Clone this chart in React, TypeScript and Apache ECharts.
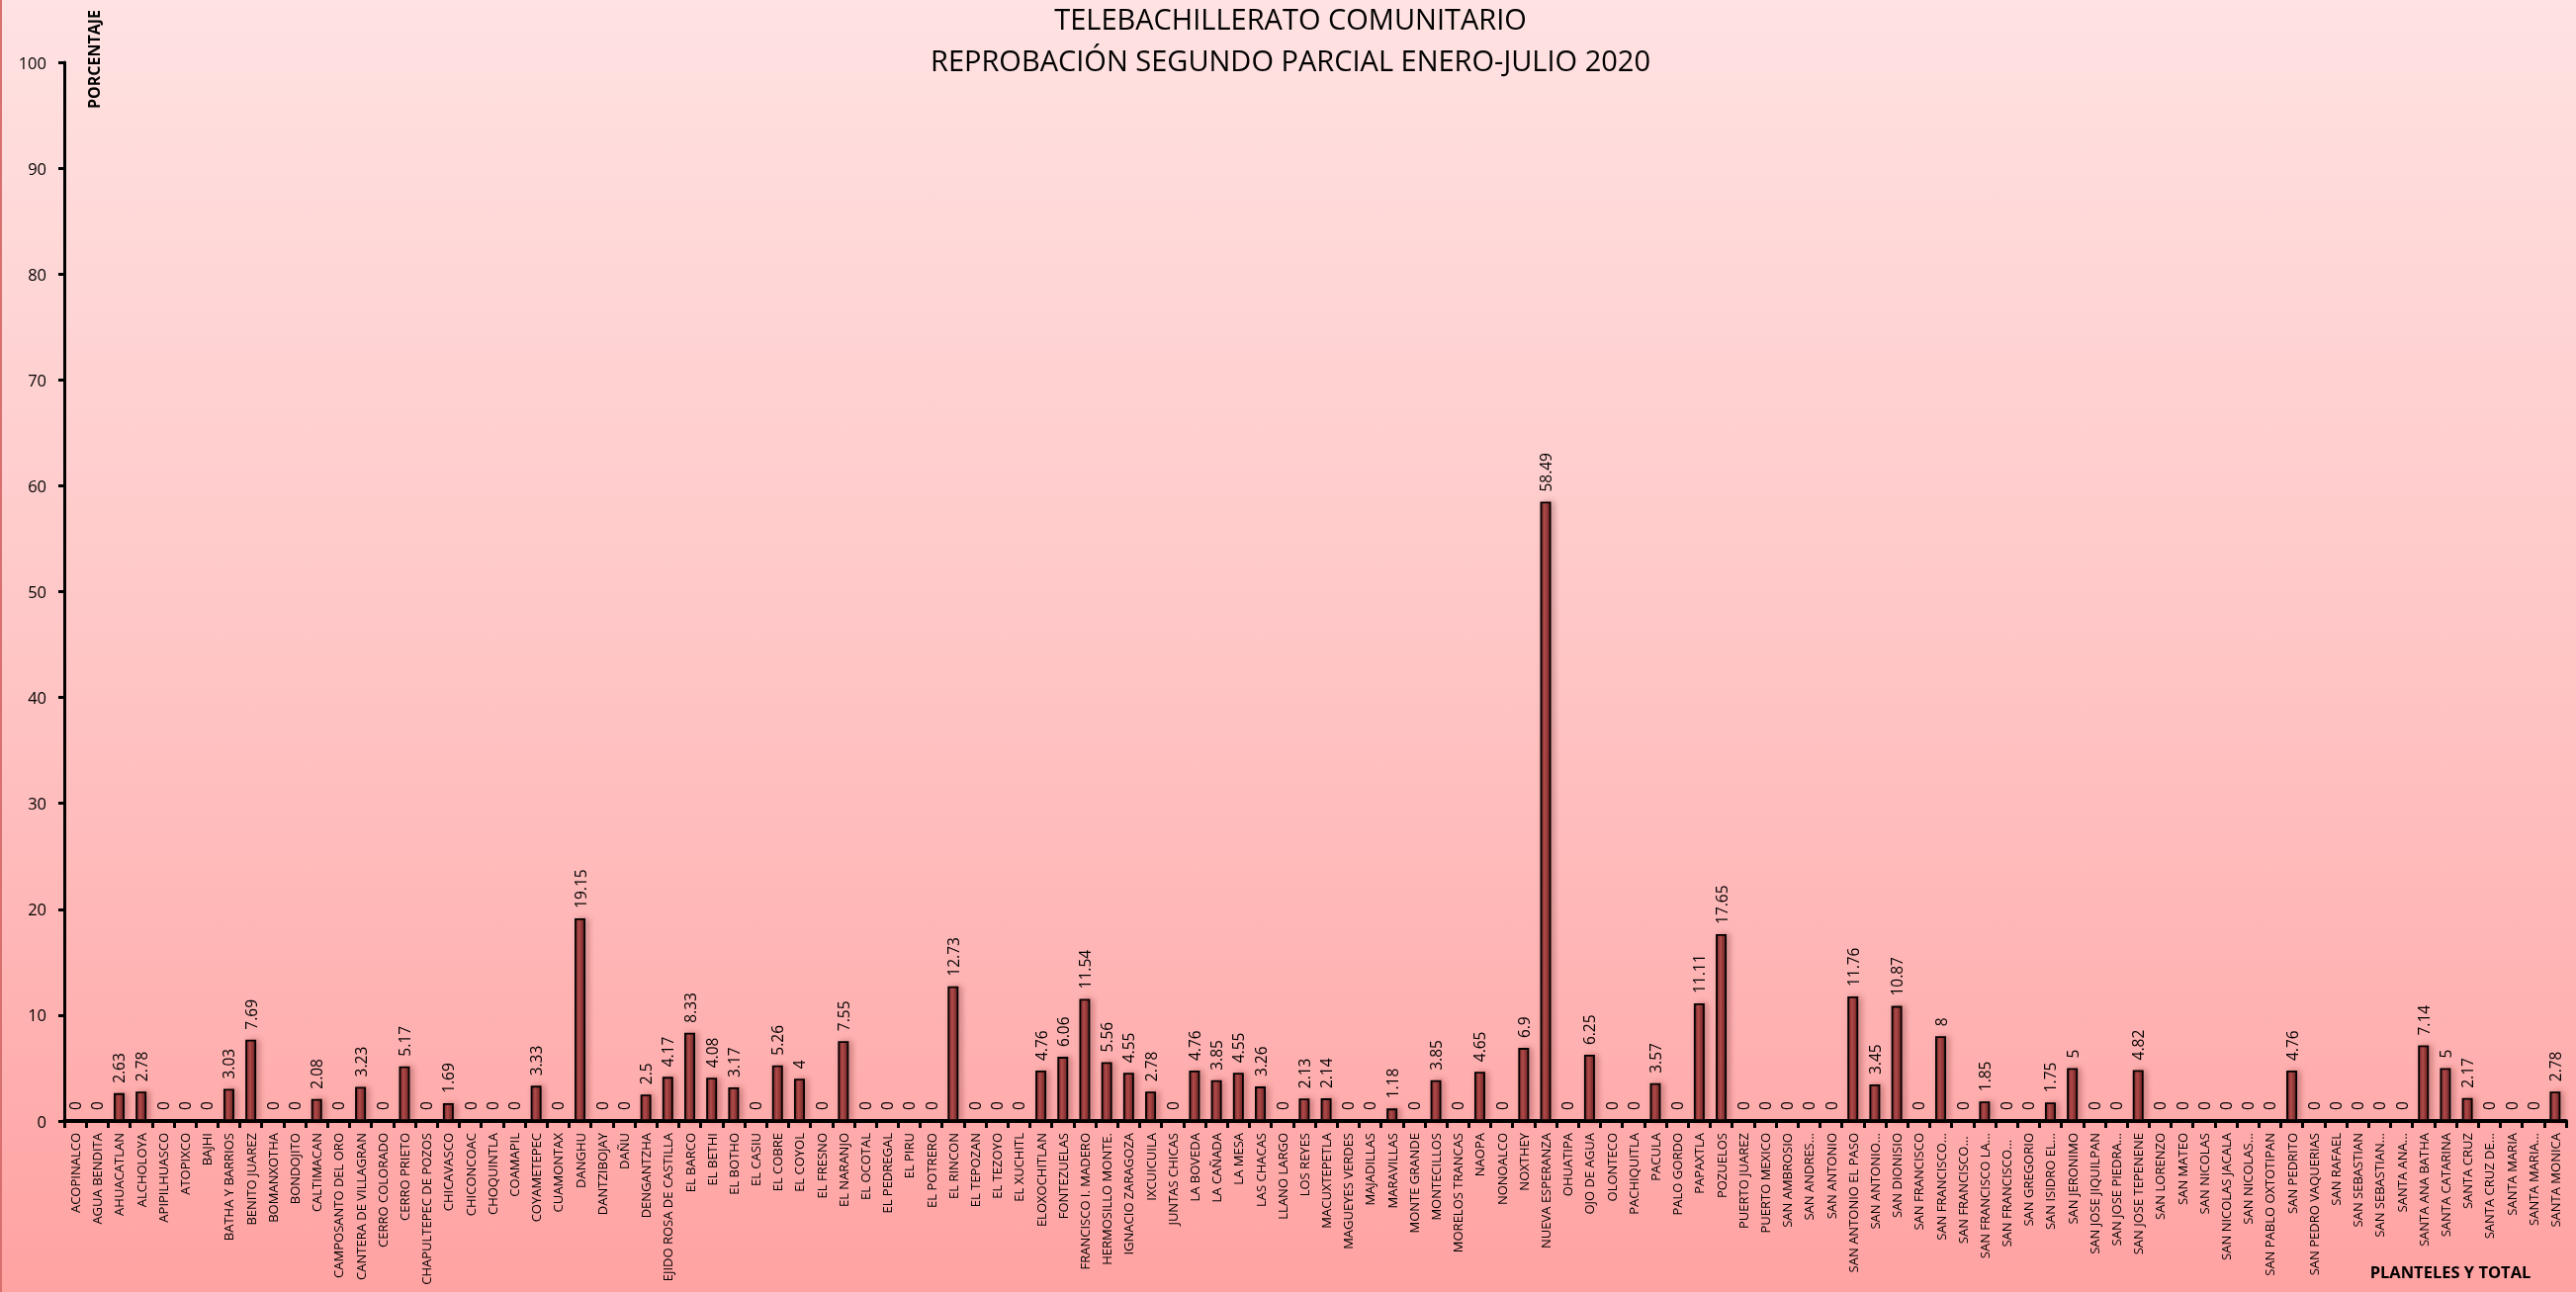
import React, { useEffect, useRef } from "react";
import * as echarts from "echarts";

const categories: string[] = [
  "ACOPINALCO", "AGUA BENDITA", "AHUACATLAN", "ALCHOLOYA", "APIPILHUASCO", "ATOPIXCO", "BAJHI",
  "BATHA Y BARRIOS", "BENITO JUAREZ", "BOMANXOTHA", "BONDOJITO", "CALTIMACAN", "CAMPOSANTO DEL ORO",
  "CANTERA DE VILLAGRAN", "CERRO COLORADO", "CERRO PRIETO", "CHAPULTEPEC DE POZOS", "CHICAVASCO",
  "CHICONCOAC", "CHOQUINTLA", "COAMAPIL", "COYAMETEPEC", "CUAMONTAX", "DANGHU", "DANTZIBOJAY", "DAÑU",
  "DENGANTZHA", "EJIDO ROSA DE CASTILLA", "EL BARCO", "EL BETHI", "EL BOTHO", "EL CASIU", "EL COBRE",
  "EL COYOL", "EL FRESNO", "EL NARANJO", "EL OCOTAL", "EL PEDREGAL", "EL PIRU", "EL POTRERO", "EL RINCON",
  "EL TEPOZAN", "EL TEZOYO", "EL XUCHITL", "ELOXOCHITLAN", "FONTEZUELAS", "FRANCISCO I. MADERO",
  "HERMOSILLO MONTE.", "IGNACIO ZARAGOZA", "IXCUICUILA", "JUNTAS CHICAS", "LA BOVEDA", "LA CAÑADA",
  "LA MESA", "LAS CHACAS", "LLANO LARGO", "LOS REYES", "MACUXTEPETLA", "MAGUEYES VERDES", "MAJADILLAS",
  "MARAVILLAS", "MONTE GRANDE", "MONTECILLOS", "MORELOS TRANCAS", "NAOPA", "NONOALCO", "NOXTHEY",
  "NUEVA ESPERANZA", "OHUATIPA", "OJO DE AGUA", "OLONTECO", "PACHIQUITLA", "PACULA", "PALO GORDO",
  "PAPAXTLA", "POZUELOS", "PUERTO JUAREZ", "PUERTO MEXICO", "SAN AMBROSIO", "SAN ANDRES...",
  "SAN ANTONIO", "SAN ANTONIO EL PASO", "SAN ANTONIO...", "SAN DIONISIO", "SAN FRANCISCO",
  "SAN FRANCISCO...", "SAN FRANCISCO... ", "SAN FRANCISCO LA...", "SAN FRANCISCO...  ", "SAN GREGORIO",
  "SAN ISIDRO EL...", "SAN JERONIMO", "SAN JOSE JIQUILPAN", "SAN JOSE PIEDRA...", "SAN JOSE TEPENENE",
  "SAN LORENZO", "SAN MATEO", "SAN NICOLAS", "SAN NICOLAS JACALA", "SAN NICOLAS...", "SAN PABLO OXTOTIPAN",
  "SAN PEDRITO", "SAN PEDRO VAQUERIAS", "SAN RAFAEL", "SAN SEBASTIAN", "SAN SEBASTIAN...", "SANTA ANA...",
  "SANTA ANA BATHA", "SANTA CATARINA", "SANTA CRUZ", "SANTA CRUZ DE...", "SANTA MARIA", "SANTA MARIA...",
  "SANTA MONICA",
];

const values: number[] = [
  0, 0, 2.63, 2.78, 0, 0, 0,
  3.03, 7.69, 0, 0, 2.08, 0,
  3.23, 0, 5.17, 0, 1.69,
  0, 0, 0, 3.33, 0, 19.15, 0, 0,
  2.5, 4.17, 8.33, 4.08, 3.17, 0, 5.26,
  4, 0, 7.55, 0, 0, 0, 0, 12.73,
  0, 0, 0, 4.76, 6.06, 11.54,
  5.56, 4.55, 2.78, 0, 4.76, 3.85,
  4.55, 3.26, 0, 2.13, 2.14, 0, 0,
  1.18, 0, 3.85, 0, 4.65, 0, 6.9,
  58.49, 0, 6.25, 0, 0, 3.57, 0,
  11.11, 17.65, 0, 0, 0, 0,
  0, 11.76, 3.45, 10.87, 0,
  8, 0, 1.85, 0, 0,
  1.75, 5, 0, 0, 4.82,
  0, 0, 0, 0, 0, 0,
  4.76, 0, 0, 0, 0, 0,
  7.14, 5, 2.17, 0, 0, 0,
  2.78,
];

const titleLines: string[] = [
  "TELEBACHILLERATO COMUNITARIO",
  "REPROBACIÓN SEGUNDO PARCIAL ENERO-JULIO 2020",
];
const yAxisTitle = "PORCENTAJE";
const xAxisTitle = "PLANTELES Y TOTAL";

const FONT = "'Open Sans', 'Noto Sans', sans-serif";

export default function App() {
  const ref = useRef<HTMLDivElement>(null);
  useEffect(() => {
    if (!ref.current) return;
    const chart = echarts.init(ref.current, null, { renderer: "svg" });
    chart.setOption({
      animation: false,
      textStyle: { fontFamily: FONT },
      graphic: [
        {
          type: "rect",
          z: -100,
          silent: true,
          shape: { x: 0, y: 0, width: 2605, height: 1307 },
          style: {
            fill: new echarts.graphic.LinearGradient(0, 0, 0, 1, [
              { offset: 0, color: "#FFE2E2" },
              { offset: 0.5, color: "#FFC6C6" },
              { offset: 1, color: "#FFA2A2" },
            ]),
          },
        },
        {
          type: "rect",
          z: -99,
          silent: true,
          shape: { x: 0, y: 0, width: 2, height: 1307 },
          style: { fill: "#D87070" },
        },
        {
          type: "text",
          x: 1305,
          y: 4,
          style: {
            text: titleLines[0],
            font: `29px ${FONT}`,
            fill: "#000",
            align: "center",
            verticalAlign: "top",
          },
        },
        {
          type: "text",
          x: 1305,
          y: 46,
          style: {
            text: titleLines[1],
            font: `29px ${FONT}`,
            fill: "#000",
            align: "center",
            verticalAlign: "top",
          },
        },
        {
          type: "text",
          x: 95,
          y: 60,
          rotation: Math.PI / 2,
          style: {
            text: yAxisTitle,
            font: `bold 16px ${FONT}`,
            fill: "#000",
            align: "center",
            verticalAlign: "middle",
          },
        },
        {
          type: "text",
          x: 2478,
          y: 1286,
          style: {
            text: xAxisTitle,
            font: `bold 16.5px ${FONT}`,
            fill: "#000",
            align: "center",
            verticalAlign: "middle",
          },
        },
      ],
      grid: { left: 65, right: 10, top: 63, bottom: 173, containLabel: false },
      xAxis: {
        type: "category",
        data: categories,
        axisLine: { show: true, lineStyle: { color: "#000", width: 4 } },
        axisTick: { show: true, interval: 0, length: 7, lineStyle: { color: "#000", width: 3 } },
        axisLabel: {
          interval: 0,
          rotate: 90,
          fontSize: 13,
          color: "#000",
          margin: 12,
          fontFamily: FONT,
        },
        splitLine: { show: false },
      },
      yAxis: {
        type: "value",
        min: 0,
        max: 100,
        interval: 10,
        axisLine: { show: true, lineStyle: { color: "#000", width: 3 } },
        axisTick: { show: true, length: 6, lineStyle: { color: "#000", width: 3 } },
        axisLabel: { fontSize: 16.5, color: "#000", margin: 18, fontFamily: FONT },
        splitLine: { show: false },
      },
      series: [
        {
          type: "bar",
          data: values,
          barWidth: 11,
          itemStyle: {
            color: new echarts.graphic.LinearGradient(0, 0, 1, 0, [
              { offset: 0, color: "#6E2626" },
              { offset: 0.4, color: "#B24A4A" },
              { offset: 1, color: "#6A2222" },
            ]),
            borderColor: "#000",
            borderWidth: 1.8,
            shadowColor: "rgba(90,20,20,0.35)",
            shadowBlur: 6,
            shadowOffsetX: 3,
            shadowOffsetY: 0,
          },
          label: {
            show: true,
            position: "top",
            rotate: 90,
            align: "left",
            verticalAlign: "middle",
            distance: 10,
            fontSize: 15.5,
            color: "#000",
            fontFamily: FONT,
          },
        },
      ],
    });
    return () => chart.dispose();
  }, []);
  return (
    <div
      ref={ref}
      style={{ position: "fixed", left: 0, top: 0, width: 2605, height: 1307 }}
    />
  );
}
